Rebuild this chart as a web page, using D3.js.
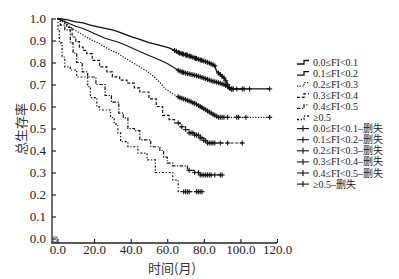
<!DOCTYPE html>
<meta charset="utf-8">
<html>
<script src="https://d3js.org/d3.v7.min.js"></script>
<style>
  body { margin: 0; background: #fff; }
</style>
<body>
<div id="chart"></div>
<script>
// survival steps: [month, survival]
const curve1 = [[0,1],[5,0.995],[10,0.985],[14,0.98],[18,0.97],[22,0.962],[26,0.955],[30,0.948],[33,0.94],[37,0.928],[41,0.915],[45,0.905],[50,0.89],[55,0.88],[61,0.866],[64,0.855],[67,0.842],[72,0.83],[78,0.812],[83,0.798],[86,0.785],[87,0.76],[89,0.745],[91,0.73],[92.5,0.71],[93.5,0.69],[94.5,0.68],[116,0.68]];
const curve2 = [[0,1],[3,0.99],[7,0.975],[10,0.965],[14,0.955],[18,0.94],[22,0.925],[26,0.91],[30,0.9],[33,0.893],[37,0.88],[41,0.865],[45,0.85],[50,0.832],[55,0.815],[60,0.795],[64,0.775],[67,0.76],[70,0.752],[75,0.742],[78,0.735],[83,0.72],[88,0.708],[91,0.7],[93,0.69],[94.5,0.68],[101,0.68]];
const curve3 = [[0,1],[2,0.99],[5,0.975],[8,0.955],[11,0.94],[14,0.925],[18,0.905],[22,0.89],[26,0.87],[30,0.852],[33,0.842],[36,0.825],[40,0.805],[44,0.785],[48,0.765],[51,0.748],[55,0.718],[59,0.68],[63,0.658],[67,0.64],[72,0.625],[76,0.61],[80,0.59],[83,0.575],[86,0.56],[88,0.551],[116,0.551]];
const curve4 = [[0,1],[2,0.99],[4,0.975],[5,0.96],[8,0.916],[10,0.895],[12,0.87],[14,0.855],[16,0.84],[19,0.81],[23,0.78],[27,0.757],[30,0.735],[34,0.72],[38,0.706],[42,0.685],[45,0.666],[50,0.635],[54,0.6],[57.5,0.56],[61,0.54],[64,0.525],[67,0.508],[70,0.495],[72,0.48],[75,0.47],[78,0.457],[80,0.445],[82,0.434],[101,0.434]];
const curve5 = [[0,1],[1.5,0.97],[4,0.948],[7,0.889],[8.5,0.843],[10.5,0.8],[13.5,0.757],[16.5,0.734],[21,0.7],[26,0.65],[29.5,0.62],[33.5,0.57],[36,0.548],[38.5,0.5],[42,0.49],[45,0.448],[51,0.417],[56,0.4],[58,0.37],[60,0.343],[63,0.33],[71,0.31],[75,0.3],[78,0.289],[90,0.289]];
const curve6 = [[0,1],[0.3,0.95],[1,0.889],[2.5,0.825],[4,0.78],[7,0.766],[10.5,0.734],[16.5,0.69],[18,0.64],[21.5,0.598],[23,0.584],[29,0.55],[31,0.52],[33,0.48],[34.5,0.44],[38.5,0.417],[44,0.388],[49,0.357],[53.5,0.3],[63,0.266],[66,0.213],[79,0.213]];

// censored months
const cens1 = [64,65,66,66.5,67,68,68.5,69,70,70.5,71,72,72.5,73,74,75,75.5,76,77,78,78.5,79,80,81,82,83,84,85,86,88,89,90,91,92,93,94,95,96,98,101,102,105,116];
const cens2 = [66,67,68,68.5,69,70,71,72,73,74,75,76,77,78,79,80,81,82,83,84,85,86,87,88,89,90,91,92,93,94,95,96];
const cens3 = [66,67,68,69,70,71,72,73,74,75,76,77,78,79,80,81,82,83,84,85,86,87,88,89,90,91,93,98,99,103,116];
const cens4 = [66,68,70,72,73,74,75,76,77,78,79,80,81,82,83,84,85,86,89,93,101];
const cens5 = [72,75,77,78,79,80,81,82,83,84,86,89,90];
const cens6 = [69,70,71,72,76,77,78,79];

const xTicks = [0, 20, 40, 60, 80, 100, 120];
const yTicks = [0, 0.1, 0.2, 0.3, 0.4, 0.5, 0.6, 0.7, 0.8, 0.9, 1.0];
const groupLabels = ["0.0≤FI<0.1", "0.1≤FI<0.2", "0.2≤FI<0.3", "0.3≤FI<0.4", "0.4≤FI<0.5", "≥0.5"];

const curves = [curve1, curve2, curve3, curve4, curve5, curve6];
const censors = [cens1, cens2, cens3, cens4, cens5, cens6];
const dashes = ["", "", "1.2,1.5", "3,1.8", "3.5,1.5,1.2,1.5", "2,1.8,1.2,1.8"];
const widths = [1.3, 1.1, 1.2, 1.2, 1.2, 1.2];
const smooth = [true, true, true, false, false, false];

const SERIF = "'Liberation Serif', 'DejaVu Serif', 'Noto Sans CJK SC', serif";
const CJK = "'Noto Sans CJK SC', sans-serif";

const W = 399, H = 279;
const svg = d3.select("#chart").append("svg")
    .attr("width", W).attr("height", H);

const x = d3.scaleLinear().domain([-3, 120]).range([52, 277]);
const y = d3.scaleLinear().domain([0, 1]).range([238.5, 18.5]);

// axes
const yAxis = svg.append("g")
    .attr("transform", "translate(52,0)")
    .call(d3.axisLeft(y).tickValues(yTicks).tickFormat(d3.format(".1f")).tickSizeInner(-4).tickSizeOuter(0).tickPadding(6));
yAxis.select(".domain").remove();
yAxis.selectAll("text").style("font-size", "13px").style("font-family", SERIF).attr("fill", "#222");

const xAxis = svg.append("g")
    .attr("transform", "translate(0,243)")
    .call(d3.axisBottom(x).tickValues(xTicks).tickFormat(d3.format(".1f")).tickSizeInner(-4).tickSizeOuter(0).tickPadding(2));
xAxis.select(".domain").remove();
xAxis.selectAll("text").style("font-size", "13px").style("font-family", SERIF).attr("fill", "#222");

svg.append("line").attr("x1", 52).attr("x2", 52).attr("y1", y(1)).attr("y2", 243.5)
    .attr("stroke", "#222").attr("stroke-width", 1.3);
svg.append("line").attr("x1", 51.5).attr("x2", 277).attr("y1", 243).attr("y2", 243)
    .attr("stroke", "#222").attr("stroke-width", 1.3);
svg.append("rect").attr("x", 53).attr("y", 237).attr("width", 4).attr("height", 5)
    .attr("fill", "none").attr("stroke", "#444").attr("stroke-width", 0.8);

// curves
const stepLine = d3.line().x(d => x(d[0])).y(d => y(d[1])).curve(d3.curveStepAfter);
const smoothLine = d3.line().x(d => x(d[0])).y(d => y(d[1]));
curves.forEach((c, i) => {
  svg.append("path").datum(c)
    .attr("d", smooth[i] ? smoothLine : stepLine)
    .attr("fill", "none")
    .attr("stroke", "#111")
    .attr("stroke-width", widths[i])
    .attr("stroke-dasharray", dashes[i]);
});

function survAt(c, t, lin) {
  for (let k = 1; k < c.length; k++) {
    if (t < c[k][0]) {
      if (!lin) return c[k - 1][1];
      const f = (t - c[k - 1][0]) / (c[k][0] - c[k - 1][0]);
      return c[k - 1][1] + f * (c[k][1] - c[k - 1][1]);
    }
  }
  return c[c.length - 1][1];
}

censors.forEach((ts, i) => {
  const g = svg.append("g").attr("stroke", "#111").attr("stroke-width", 1.1);
  ts.forEach(t => {
    const cx = x(t), cy = y(survAt(curves[i], t, smooth[i]));
    g.append("line").attr("x1", cx - 2.5).attr("x2", cx + 2.5).attr("y1", cy).attr("y2", cy);
    g.append("line").attr("x1", cx).attr("x2", cx).attr("y1", cy - 2.5).attr("y2", cy + 2.5);
  });
});

// labels
svg.append("text").attr("x", 172).attr("y", 273).attr("text-anchor", "middle")
    .style("font-size", "13px").style("font-family", CJK).attr("fill", "#333")
    .text("时间(月)");
svg.append("text").attr("transform", "translate(26,129) rotate(-90)").attr("text-anchor", "middle")
    .style("font-size", "13px").style("font-family", CJK).attr("fill", "#333")
    .text("总生存率");

// legend
const lg = svg.append("g");
const rowY = i => 62 + i * 11.1;
groupLabels.forEach((lab, i) => {
  const yy = rowY(i);
  lg.append("path")
    .attr("d", `M297,${yy + 2}H304V${yy - 1.5}H309`)
    .attr("fill", "none").attr("stroke", "#111").attr("stroke-width", 1.3)
    .attr("stroke-dasharray", dashes[i]);
  lg.append("text").attr("x", 313).attr("y", yy + 3.5)
    .style("font-size", "10px").style("font-family", SERIF).attr("fill", "#222").text(lab);
});
groupLabels.forEach((lab, i) => {
  const yy = rowY(i + 6);
  lg.append("line").attr("x1", 297).attr("x2", 309).attr("y1", yy).attr("y2", yy)
    .attr("stroke", "#111").attr("stroke-width", 1.1);
  lg.append("line").attr("x1", 303).attr("x2", 303).attr("y1", yy - 3).attr("y2", yy + 3)
    .attr("stroke", "#111").attr("stroke-width", 1.1);
  lg.append("text").attr("x", 313).attr("y", yy + 3.5)
    .style("font-size", "10px").style("font-family", SERIF).attr("fill", "#222").text(lab + "–删失");
});
</script>
</body>
</html>
